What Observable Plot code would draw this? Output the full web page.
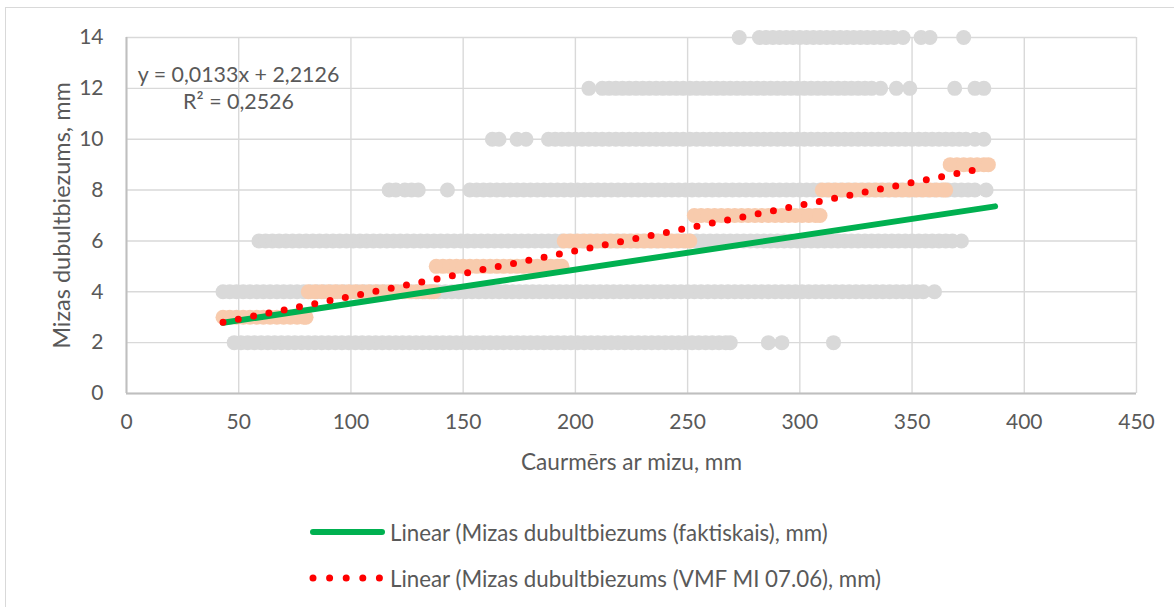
<!DOCTYPE html>
<html>
<head>
<meta charset="utf-8">
<script src="https://cdn.jsdelivr.net/npm/d3@7"></script>
<script src="https://cdn.jsdelivr.net/npm/@observablehq/plot@0.6"></script>
<style>
  html, body { margin: 0; padding: 0; background: #fff; }
  #wrap { position: relative; width: 1174px; height: 607px; overflow: hidden; font-family: Lato, "Open Sans", sans-serif; color: #595959; }
  #frame { position: absolute; left: 5px; top: 7px; width: 1200px; height: 700px; border-left: 1.5px solid #D9D9D9; border-top: 1.5px solid #D9D9D9; }
  #chart { position: absolute; left: 0; top: 0; }
  .leg { position: absolute; left: 306px; display: flex; align-items: center; font-size: 22.3px; white-space: nowrap; }
  .leg svg { margin-right: 2px; }
</style>
</head>
<body>
<div id="wrap">
  <div id="frame"></div>
  <div id="chart"></div>
  <div class="leg" id="leg1" style="top:518px"></div>
  <div class="leg" id="leg2" style="top:564px"></div>
</div>
<script>
// ---- axis ticks ----
const xTicks = [0, 50, 100, 150, 200, 250, 300, 350, 400, 450];
const yTicks = [0, 2, 4, 6, 8, 10, 12, 14];

// ---- measured bark double thickness (faktiskais), grouped by value (mm): diameters ----
const grayLevels = [2, 4, 6, 8, 10, 12, 14];
const diam2 = [48,51,54,57,60,63,66,69,72,75,78,81,84,87,90,93,96,99,102,105,108,111,114,117,120,123,126,129,132,135,138,141,144,147,150,153,156,159,162,165,168,171,174,177,180,183,186,189,192,195,198,201,204,207,210,213,216,219,222,225,228,231,234,237,240,243,246,249,252,255,258,261,264,267,269,286,292,315];
const diam4 = [43,46,49,52,55,58,61,64,67,70,73,76,79,82,85,88,91,94,97,100,103,106,109,112,115,118,121,124,127,130,133,136,139,142,145,148,151,154,157,160,163,166,169,172,175,178,181,184,187,190,193,196,199,202,205,208,211,214,217,220,223,226,229,232,235,238,241,244,247,250,253,256,259,262,265,268,271,274,277,280,283,286,289,292,295,298,301,304,307,310,313,316,319,322,325,328,331,334,337,340,343,346,349,352,355,360];
const diam6 = [59,62,65,68,71,74,77,80,83,86,89,92,95,98,101,104,107,110,113,116,119,122,125,128,131,134,137,140,143,146,149,152,155,158,161,164,167,170,173,176,179,182,185,188,191,194,197,200,203,206,209,212,215,218,221,224,227,230,233,236,239,242,245,248,251,254,257,260,263,266,269,272,275,278,281,284,287,290,293,296,299,302,305,308,311,314,317,320,323,326,329,332,335,338,341,344,347,350,353,356,359,362,365,368,372];
const diam8 = [117,120,124,127,130,143,153,156,159,162,165,168,171,174,177,180,183,186,189,192,195,198,201,204,207,210,213,216,219,222,225,228,231,234,237,240,243,246,249,252,255,258,261,264,267,270,273,276,279,282,285,288,291,294,297,300,303,306,309,312,315,318,321,324,327,330,333,336,339,342,345,348,351,354,357,360,363,366,369,372,375,378,383];
const diam10 = [163,166,174,178,188,191,194,197,200,203,206,209,212,215,218,221,224,227,230,233,236,239,242,245,248,251,254,257,260,263,266,269,272,275,278,281,284,287,290,293,296,299,302,305,308,311,314,317,320,323,326,329,332,335,338,341,344,347,350,353,356,359,362,365,368,371,374,378,382];
const diam12 = [206,212,215,218,221,224,227,230,233,236,239,242,245,248,251,254,257,260,263,266,269,272,275,278,281,284,287,290,293,296,299,302,305,308,311,314,317,320,323,326,329,332,336,343,349,369,378,382];
const diam14 = [273,282,285,288,291,294,297,300,303,306,309,312,315,318,321,324,327,330,333,336,339,342,346,354,358,373];
const grayDiams = [diam2, diam4, diam6, diam8, diam10, diam12, diam14];

// ---- VMF MI 07.06 table values (steps): diameters per thickness ----
const vmfLevels = [3, 4, 5, 6, 7, 8, 9];
const vmf3 = [43,46,49,52,55,58,61,64,67,70,73,76,79,80];
const vmf4 = [81,84,87,90,93,96,99,102,105,108,111,114,117,120,123,126,129,132,135,137];
const vmf5 = [138,141,144,147,150,153,156,159,162,165,168,171,174,177,180,183,186,189,192,194];
const vmf6 = [195,198,201,204,207,210,213,216,219,222,225,228,231,234,237,240,243,246,249,251];
const vmf7 = [253,256,259,262,265,268,271,274,277,280,283,286,289,292,295,298,301,304,307,309];
const vmf8 = [310,313,316,319,322,325,328,331,334,337,340,343,346,349,352,355,358,361,364,365];
const vmf9 = [367,370,373,376,379,382,384];
const vmfDiams = [vmf3, vmf4, vmf5, vmf6, vmf7, vmf8, vmf9];

// ---- linear trend lines (end points) ----
const trendFaktX = [43, 387];
const trendFaktY = [2.78, 7.36];
const trendVmfX = [43, 380];
const trendVmfY = [2.80, 8.83];

const eqText = "y = 0,0133x + 2,2126";
const r2Text = "R² = 0,2526";
const xTitle = "Caurmērs ar mizu, mm";
const yTitle = "Mizas dubultbiezums, mm";
const legFakt = "Linear (Mizas dubultbiezums (faktiskais), mm)";
const legVmf = "Linear (Mizas dubultbiezums (VMF MI 07.06), mm)";

// build tables
const grayData = grayLevels.flatMap((lv, i) => grayDiams[i].map(d => ({x: d, y: lv})));
const vmfData = vmfLevels.flatMap((lv, i) => vmfDiams[i].map(d => ({x: d, y: lv})));
const faktLine = trendFaktX.map((x, i) => ({x, y: trendFaktY[i]}));
const vmfLine = trendVmfX.map((x, i) => ({x, y: trendVmfY[i]}));

const chart = Plot.plot({
  width: 1174,
  height: 607,
  marginLeft: 126,
  marginRight: 38,
  marginTop: 37,
  marginBottom: 214,
  style: {fontFamily: "Lato, 'Open Sans', sans-serif", color: "#595959", background: "transparent", overflow: "visible"},
  x: {domain: [0, 450]},
  y: {domain: [0, 14]},
  marks: [
    Plot.gridX(xTicks, {stroke: "#D9D9D9", strokeOpacity: 1, strokeWidth: 1.4}),
    Plot.gridY(yTicks, {stroke: "#D9D9D9", strokeOpacity: 1, strokeWidth: 1.4}),
    Plot.ruleX([0], {stroke: "#BFBFBF", strokeWidth: 2}),
    Plot.ruleY([0], {stroke: "#BFBFBF", strokeWidth: 2}),
    Plot.axisX(xTicks, {tickSize: 0, tickPadding: 21, fontSize: 21, label: null, tickFormat: d => String(d)}),
    Plot.axisY(yTicks, {tickSize: 0, tickPadding: 23, fontSize: 21, label: null, tickFormat: d => String(d)}),
    Plot.dot(grayData, {x: "x", y: "y", r: 7.5, fill: "#D9D9D9"}),
    Plot.dot(vmfData, {x: "x", y: "y", r: 7.5, fill: "#F8CBAD"}),
    Plot.line(faktLine, {x: "x", y: "y", stroke: "#00B050", strokeWidth: 6, strokeLinecap: "round"}),
    Plot.line(vmfLine, {x: "x", y: "y", stroke: "#FF0000", strokeWidth: 7, strokeDasharray: "0 15.6", strokeLinecap: "round"}),
    Plot.text([eqText], {frameAnchor: "top-left", dx: 112, dy: 38, text: d => d, fontSize: 21.4, textAnchor: "middle", lineAnchor: "middle", fill: "#595959"}),
    Plot.text([r2Text], {frameAnchor: "top-left", dx: 112, dy: 65, text: d => d, fontSize: 21.4, textAnchor: "middle", lineAnchor: "middle", fill: "#595959"}),
    Plot.text([xTitle], {frameAnchor: "bottom", dy: 69, text: d => d, fontSize: 22.6, textAnchor: "middle", lineAnchor: "middle", fill: "#595959"}),
    Plot.text([yTitle], {frameAnchor: "left", dx: -64, rotate: -90, text: d => d, fontSize: 23.5, textAnchor: "middle", lineAnchor: "middle", fill: "#595959"})
  ]
});
document.getElementById("chart").appendChild(chart);

// legend
const ns = "http://www.w3.org/2000/svg";
function swatch(dotted) {
  const s = document.createElementNS(ns, "svg");
  s.setAttribute("width", 82); s.setAttribute("height", 28);
  const l = document.createElementNS(ns, "line");
  l.setAttribute("x1", 7); l.setAttribute("x2", 76); l.setAttribute("y1", 14); l.setAttribute("y2", 14);
  l.setAttribute("stroke-linecap", "round");
  if (dotted) {
    l.setAttribute("stroke", "#FF0000"); l.setAttribute("stroke-width", 7); l.setAttribute("stroke-dasharray", "0 16.6");
  } else {
    l.setAttribute("stroke", "#00B050"); l.setAttribute("stroke-width", 6);
  }
  s.appendChild(l);
  return s;
}
const l1 = document.getElementById("leg1");
l1.appendChild(swatch(false));
l1.appendChild(document.createTextNode(legFakt));
const l2 = document.getElementById("leg2");
l2.appendChild(swatch(true));
l2.appendChild(document.createTextNode(legVmf));
</script>
</body>
</html>
